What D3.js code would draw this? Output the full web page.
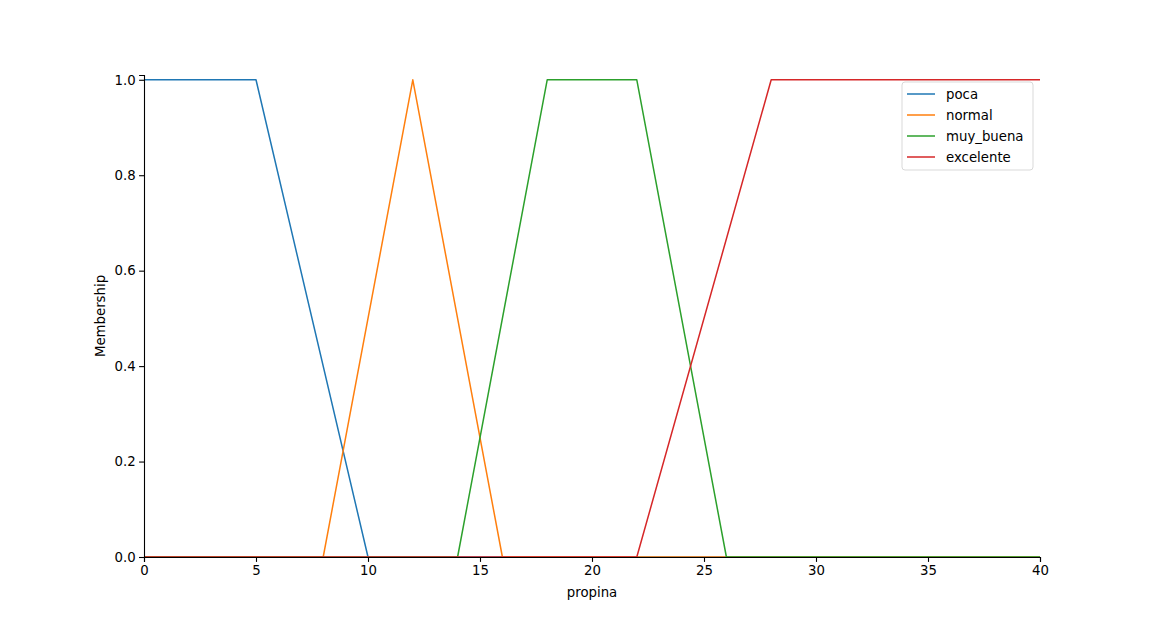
<!DOCTYPE html>
<html>
<head>
<meta charset="utf-8">
<script src="https://cdn.jsdelivr.net/npm/d3@7"></script>
<style>
  body { margin: 0; background: #fff; }
  svg { font-family: "DejaVu Sans", sans-serif; }
</style>
</head>
<body>
<div id="chart"></div>
<script>
// membership function breakpoints (propina universe 0..40)
var seriesNames = ["poca", "normal", "muy_buena", "excelente"];
var seriesColors = ["#1f77b4", "#ff7f0e", "#2ca02c", "#d62728"];
var pocaX = [0, 5, 10, 40], pocaY = [1, 1, 0, 0];
var normalX = [0, 8, 12, 16, 40], normalY = [0, 0, 1, 0, 0];
var muyBuenaX = [0, 14, 18, 22, 26, 40], muyBuenaY = [0, 0, 1, 1, 0, 0];
var excelenteX = [0, 22, 28, 40], excelenteY = [0, 0, 1, 1];
var xTicks = [0, 5, 10, 15, 20, 25, 30, 35, 40];
var yTicks = [0.0, 0.2, 0.4, 0.6, 0.8, 1.0];

var seriesX = [pocaX, normalX, muyBuenaX, excelenteX];
var seriesY = [pocaY, normalY, muyBuenaY, excelenteY];

var margin = { top: 75, right: 115, bottom: 69, left: 144 },
    width = 1155 - margin.left - margin.right,
    height = 626 - margin.top - margin.bottom;

var svg = d3.select("#chart")
    .append("svg")
    .attr("width", 1155)
    .attr("height", 626)
    .append("g")
    .attr("transform", "translate(" + margin.left + "," + margin.top + ")");

var x = d3.scaleLinear().domain([0, 40]).range([0, width]);
var y = d3.scaleLinear().domain([0, 1.01]).range([height, 0]);

var line = d3.line()
    .x(function(d) { return x(d[0]); })
    .y(function(d) { return y(d[1]); });

seriesNames.forEach(function(name, i) {
    var pts = seriesX[i].map(function(v, j) { return [v, seriesY[i][j]]; });
    svg.append("path")
        .datum(pts)
        .attr("fill", "none")
        .attr("stroke", seriesColors[i])
        .attr("stroke-width", 1.5)
        .attr("stroke-linejoin", "round")
        .attr("d", line);
});

var xAxis = svg.append("g")
    .attr("transform", "translate(0," + height + ")")
    .call(d3.axisBottom(x).tickValues(xTicks).tickFormat(d3.format("d")).tickSizeOuter(0).tickSize(4.9).tickPadding(3.5));

var yAxis = svg.append("g")
    .call(d3.axisLeft(y).tickValues(yTicks).tickFormat(d3.format(".1f")).tickSizeOuter(0).tickSize(4.9).tickPadding(3.5));

[xAxis, yAxis].forEach(function(a) {
    a.selectAll("text").style("font-size", "13.3px").style("font-family", "DejaVu Sans").attr("fill", "#000");
    a.selectAll("line").attr("stroke", "#000").attr("stroke-width", 1.1);
    a.select(".domain").attr("stroke", "#000").attr("stroke-width", 1.1);
});

// axis labels
svg.append("text")
    .attr("x", width / 2)
    .attr("y", height + 40)
    .style("text-anchor", "middle")
    .style("font-size", "13.3px")
    .text("propina");

svg.append("text")
    .attr("transform", "rotate(-90)")
    .attr("x", -height / 2)
    .attr("y", -39)
    .style("text-anchor", "middle")
    .style("font-size", "13.3px")
    .text("Membership");

// legend
var legend = svg.append("g")
    .attr("transform", "translate(" + (902 - margin.left) + "," + (82 - margin.top) + ")");

legend.append("rect")
    .attr("width", 131)
    .attr("height", 88)
    .attr("rx", 3)
    .attr("fill", "#fff")
    .attr("fill-opacity", 0.8)
    .attr("stroke", "#d9d9d9")
    .attr("stroke-width", 1);

seriesNames.forEach(function(name, i) {
    var ly = 12 + i * 21;
    legend.append("line")
        .attr("x1", 5).attr("x2", 33)
        .attr("y1", ly).attr("y2", ly)
        .attr("stroke", seriesColors[i])
        .attr("stroke-width", 1.5);
    legend.append("text")
        .attr("x", 44)
        .attr("y", ly)
        .attr("dy", "0.35em")
        .style("font-size", "13.3px")
        .text(name);
});
</script>
</body>
</html>
